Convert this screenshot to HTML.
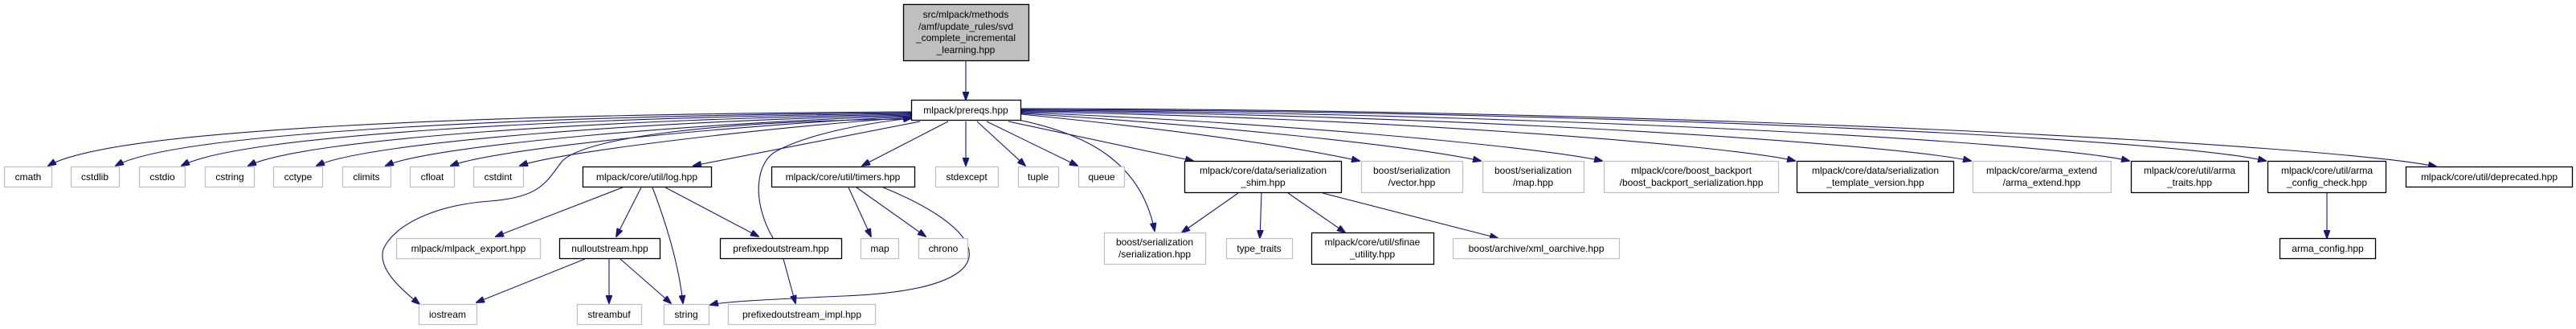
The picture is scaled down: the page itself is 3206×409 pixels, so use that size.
<!DOCTYPE html>
<html><head><meta charset="utf-8"><style>
html,body{margin:0;padding:0;background:#fff;width:3206px;height:409px;overflow:hidden}
svg{display:block}
text{font-family:"Liberation Sans",sans-serif;font-size:12px;fill:#000;text-anchor:middle}
.g{fill:#fff;stroke:#bfbfbf;stroke-width:1.2}
.b{fill:#fff;stroke:#000;stroke-width:1.3}
.e{fill:none;stroke:#191970;stroke-width:1.1}
</style></head><body>
<svg width="3206" height="409" viewBox="0 0 3206 409" xmlns="http://www.w3.org/2000/svg">
<defs><marker id="a" markerWidth="11" markerHeight="8" refX="10" refY="4" orient="auto" markerUnits="userSpaceOnUse"><path d="M0,0 L11,4 L0,8 z" fill="#191970" stroke="#191970"/></marker></defs>
<g marker-end="url(#a)">
<path class="e" d="M1202,75 L1202,124"/>
<!-- left fan -->
<path class="e" d="M1134,139 C600,142 140,160 60,206"/>
<path class="e" d="M1134,140 C650,144 220,165 144,206"/>
<path class="e" d="M1134,141 C700,146 300,168 226,206"/>
<path class="e" d="M1134,142 C760,148 380,172 309,206"/>
<path class="e" d="M1134,143 C820,150 460,176 394,206"/>
<path class="e" d="M1134,144 C880,152 540,180 480,206"/>
<path class="e" d="M1134,145 C920,155 620,184 561,206"/>
<path class="e" d="M1134,146 C960,158 700,188 647,206"/>
<path class="e" d="M1145,151 L863,206"/>
<path class="e" d="M1180,151 L1073,206"/>
<path class="e" d="M1135,148 C900,150 730,170 700,200 C680,225 675,245 610,250 C540,255 490,280 477,310 C470,335 500,360 522,378"/>
<path class="e" d="M962,296 C935,250 940,200 968,187 C1000,170 1060,155 1134,147"/>
<!-- down -->
<path class="e" d="M1202,151 L1202,206"/>
<path class="e" d="M1216,151 L1276,206"/>
<path class="e" d="M1228,151 L1341,206"/>
<path class="e" d="M1255,151 L1485,200"/>
<path class="e" d="M1262,148 C1350,165 1420,200 1437,287"/>
<!-- right fan -->
<path class="e" d="M1271,142 C1450,160 1600,180 1692,200"/>
<path class="e" d="M1271,141 C1500,155 1750,180 1843,200"/>
<path class="e" d="M1271,140 C1550,150 1900,180 1994,200"/>
<path class="e" d="M1271,139 C1700,145 2150,180 2234,200"/>
<path class="e" d="M1271,138 C1800,142 2350,178 2453,200"/>
<path class="e" d="M1271,137 C1900,140 2550,176 2650,200"/>
<path class="e" d="M1271,136 C2000,138 2700,172 2820,200"/>
<path class="e" d="M1271,135 C2100,136 2900,180 3032,207"/>
<!-- log -->
<path class="e" d="M775,233 L617,294"/>
<path class="e" d="M798,233 L767,294"/>
<path class="e" d="M812,233 C830,280 845,330 850,377"/>
<path class="e" d="M828,233 L944,294"/>
<!-- nullout -->
<path class="e" d="M728,322 L593,376"/>
<path class="e" d="M758,322 L758,377"/>
<path class="e" d="M772,322 L835,377"/>
<path class="e" d="M975,322 L990,377"/>
<!-- timers -->
<path class="e" d="M1056,233 L1084,294"/>
<path class="e" d="M1066,233 L1152,294"/>
<path class="e" d="M1099,233 C1240,290 1260,360 1050,368 C960,372 900,375 884,379"/>
<!-- shim -->
<path class="e" d="M1541,240 L1471,289"/>
<path class="e" d="M1570,240 L1568,296"/>
<path class="e" d="M1603,240 L1674,289"/>
<path class="e" d="M1646,240 L1864,296"/>
<path class="e" d="M2896,240 L2896,296"/>
</g>
<!-- nodes -->
<rect x="1124.5" y="5.5" width="156" height="70" fill="#bfbfbf" stroke="#000" stroke-width="1.3"/>
<text x="1202" y="22">src/mlpack/methods</text><text x="1202" y="37">/amf/update_rules/svd</text><text x="1202" y="51">_complete_incremental</text><text x="1202" y="66">_learning.hpp</text>
<rect class="b" x="1134.5" y="124.5" width="136" height="25"/><text x="1202" y="141">mlpack/prereqs.hpp</text>
<g>
<rect class="g" x="5.5" y="207.5" width="59" height="25"/><text x="35" y="224">cmath</text>
<rect class="g" x="88.5" y="207.5" width="60" height="25"/><text x="118" y="224">cstdlib</text>
<rect class="g" x="173.5" y="207.5" width="57" height="25"/><text x="202" y="224">cstdio</text>
<rect class="g" x="255.5" y="207.5" width="61" height="25"/><text x="286" y="224">cstring</text>
<rect class="g" x="340.5" y="207.5" width="61" height="25"/><text x="371" y="224">cctype</text>
<rect class="g" x="426.5" y="207.5" width="60" height="25"/><text x="456" y="224">climits</text>
<rect class="g" x="510.5" y="207.5" width="55" height="25"/><text x="538" y="224">cfloat</text>
<rect class="g" x="589.5" y="207.5" width="62" height="25"/><text x="620" y="224">cstdint</text>
<rect class="b" x="725.5" y="207.5" width="160" height="25"/><text x="805" y="224">mlpack/core/util/log.hpp</text>
<rect class="b" x="960.5" y="207.5" width="178" height="25"/><text x="1049" y="224">mlpack/core/util/timers.hpp</text>
<rect class="g" x="1164.5" y="207.5" width="78" height="25"/><text x="1203" y="224">stdexcept</text>
<rect class="g" x="1267.5" y="207.5" width="50" height="25"/><text x="1292" y="224">tuple</text>
<rect class="g" x="1342.5" y="207.5" width="57" height="25"/><text x="1371" y="224">queue</text>
<rect class="b" x="1474.5" y="200.5" width="195" height="39"/><text x="1572" y="216">mlpack/core/data/serialization</text><text x="1572" y="231">_shim.hpp</text>
<rect class="g" x="1694.5" y="200.5" width="126" height="39"/><text x="1757" y="216">boost/serialization</text><text x="1757" y="231">/vector.hpp</text>
<rect class="g" x="1845.5" y="200.5" width="126" height="39"/><text x="1908" y="216">boost/serialization</text><text x="1908" y="231">/map.hpp</text>
<rect class="g" x="1996.5" y="200.5" width="217" height="39"/><text x="2105" y="216">mlpack/core/boost_backport</text><text x="2105" y="231">/boost_backport_serialization.hpp</text>
<rect class="b" x="2236.5" y="200.5" width="195" height="39"/><text x="2334" y="216">mlpack/core/data/serialization</text><text x="2334" y="231">_template_version.hpp</text>
<rect class="g" x="2455.5" y="200.5" width="172" height="39"/><text x="2541" y="216">mlpack/core/arma_extend</text><text x="2541" y="231">/arma_extend.hpp</text>
<rect class="b" x="2652.5" y="200.5" width="146" height="39"/><text x="2725" y="216">mlpack/core/util/arma</text><text x="2725" y="231">_traits.hpp</text>
<rect class="b" x="2822.5" y="200.5" width="147" height="39"/><text x="2896" y="216">mlpack/core/util/arma</text><text x="2896" y="231">_config_check.hpp</text>
<rect class="b" x="2994.5" y="207.5" width="207" height="25"/><text x="3098" y="224">mlpack/core/util/deprecated.hpp</text>
<rect class="g" x="493.5" y="296.5" width="179" height="25"/><text x="583" y="313">mlpack/mlpack_export.hpp</text>
<rect class="b" x="696.5" y="296.5" width="125" height="25"/><text x="759" y="313">nulloutstream.hpp</text>
<rect class="b" x="896.5" y="296.5" width="151" height="25"/><text x="972" y="313">prefixedoutstream.hpp</text>
<rect class="g" x="1071.5" y="296.5" width="47" height="25"/><text x="1095" y="313">map</text>
<rect class="g" x="1143.5" y="296.5" width="61" height="25"/><text x="1174" y="313">chrono</text>
<rect class="g" x="1374.5" y="289.5" width="126" height="39"/><text x="1437" y="305">boost/serialization</text><text x="1437" y="320">/serialization.hpp</text>
<rect class="g" x="1526.5" y="296.5" width="82" height="25"/><text x="1567" y="313">type_traits</text>
<rect class="b" x="1632.5" y="289.5" width="152" height="39"/><text x="1708" y="305">mlpack/core/util/sfinae</text><text x="1708" y="320">_utility.hpp</text>
<rect class="g" x="1808.5" y="296.5" width="207" height="25"/><text x="1912" y="313">boost/archive/xml_oarchive.hpp</text>
<rect class="b" x="2837.5" y="296.5" width="119" height="25"/><text x="2897" y="313">arma_config.hpp</text>
<rect class="g" x="521.5" y="378.5" width="72" height="25"/><text x="557" y="395">iostream</text>
<rect class="g" x="718.5" y="378.5" width="80" height="25"/><text x="758" y="395">streambuf</text>
<rect class="g" x="826.5" y="378.5" width="56" height="25"/><text x="854" y="395">string</text>
<rect class="g" x="906.5" y="378.5" width="183" height="25"/><text x="998" y="395">prefixedoutstream_impl.hpp</text>
</g>
</svg>
</body></html>
